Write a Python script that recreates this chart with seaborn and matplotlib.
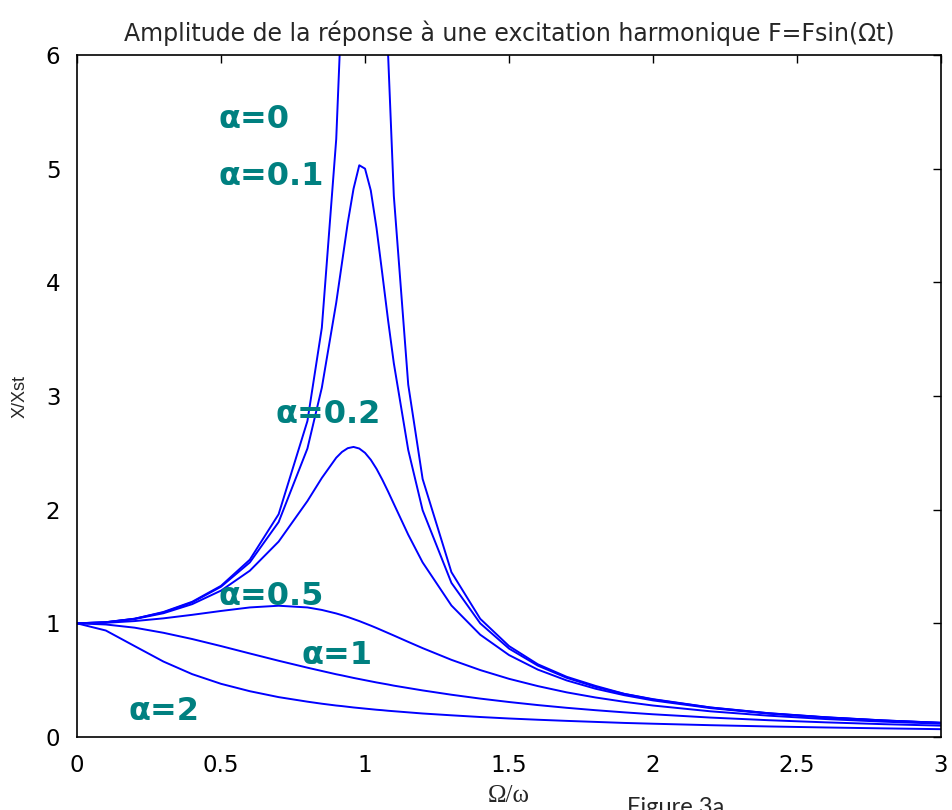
import numpy as np
import pandas as pd
import seaborn as sns
import matplotlib
matplotlib.use("Agg")
import matplotlib.pyplot as plt

# Omega/omega
r = [0, 0.1, 0.2, 0.3, 0.4, 0.5, 0.6, 0.7, 0.8, 0.85, 0.9, 0.92, 0.94, 0.96, 0.98,
     1.0, 1.02, 1.04, 1.06, 1.08, 1.1, 1.15, 1.2, 1.3, 1.4, 1.5, 1.6, 1.7, 1.8, 1.9,
     2.0, 2.2, 2.4, 2.6, 2.8, 3.0]

amp_a0 = [1.00, 1.01, 1.04, 1.10, 1.19, 1.33, 1.56, 1.96, 2.78, 3.60, 5.26, 6.51, 8.59, 12.76, 25.3,
          1000.0, 24.8, 12.25, 8.09, 6.01, 4.76, 3.10, 2.27, 1.45, 1.04, 0.80, 0.64, 0.53, 0.45, 0.38,
          0.333, 0.26, 0.21, 0.174, 0.146, 0.125]
amp_a01 = [1.00, 1.010, 1.041, 1.096, 1.185, 1.322, 1.536, 1.891, 2.538, 3.073, 3.821, 4.172, 4.523, 4.822, 5.03,
           5.00, 4.808, 4.476, 4.075, 3.667, 3.288, 2.525, 1.995, 1.356, 1.000, 0.778, 0.628, 0.521, 0.441, 0.379,
           0.330, 0.259, 0.209, 0.173, 0.146, 0.125]
amp_a02 = [1.00, 1.009, 1.038, 1.089, 1.169, 1.288, 1.463, 1.719, 2.076, 2.279, 2.457, 2.508, 2.541, 2.552, 2.538,
           2.50, 2.439, 2.359, 2.264, 2.160, 2.051, 1.780, 1.536, 1.157, 0.900, 0.721, 0.593, 0.498, 0.425, 0.368,
           0.322, 0.254, 0.206, 0.171, 0.144, 0.124]
amp_a05 = [1.00, 1.005, 1.020, 1.044, 1.075, 1.109, 1.140, 1.155, 1.140, 1.118, 1.087, 1.072, 1.056, 1.038, 1.020,
           1.00, 0.980, 0.959, 0.937, 0.915, 0.893, 0.837, 0.782, 0.679, 0.589, 0.512, 0.448, 0.393, 0.348, 0.310,
           0.277, 0.226, 0.188, 0.158, 0.135, 0.117]
amp_a1 = [1.00, 0.990, 0.962, 0.917, 0.862, 0.800, 0.735, 0.671, 0.610, 0.581, 0.552, 0.542, 0.531, 0.520, 0.510,
          0.500, 0.490, 0.480, 0.471, 0.462, 0.452, 0.431, 0.410, 0.372, 0.338, 0.308, 0.281, 0.257, 0.236, 0.217,
          0.200, 0.171, 0.148, 0.129, 0.113, 0.100]
amp_a2 = [1.00, 0.937, 0.800, 0.664, 0.553, 0.468, 0.403, 0.351, 0.311, 0.293, 0.277, 0.272, 0.266, 0.260, 0.255,
          0.250, 0.245, 0.240, 0.236, 0.231, 0.227, 0.217, 0.207, 0.191, 0.176, 0.163, 0.152, 0.142, 0.133, 0.124,
          0.117, 0.104, 0.093, 0.084, 0.076, 0.069]

alphas = ["0", "0.1", "0.2", "0.5", "1", "2"]
series = [amp_a0, amp_a01, amp_a02, amp_a05, amp_a1, amp_a2]

# format long pour seaborn
df = pd.concat([pd.DataFrame({"r": r, "amp": s, "alpha": a}) for a, s in zip(alphas, series)])

sns.set_style("white")
plt.rcParams["font.family"] = ["DejaVu Sans"]

fig = plt.figure(figsize=(9.52, 8.10), dpi=100)
ax = fig.add_axes([0.0809, 0.0901, 0.9076, 0.842])

sns.lineplot(data=df, x="r", y="amp", hue="alpha", palette=["#0000ff"] * 6,
             legend=False, linewidth=1.4, ax=ax, sort=False)

ax.set_xlim(0, 3)
ax.set_ylim(0, 6)
ax.set_xticks([0, 0.5, 1, 1.5, 2, 2.5, 3])
ax.set_xticklabels(["0", "0.5", "1", "1.5", "2", "2.5", "3"])
ax.set_yticks(range(7))
ax.tick_params(direction="in", length=6, width=1, top=True, right=True,
               labelsize=16.5, colors="black", pad=12)
for sp in ax.spines.values():
    sp.set_color("black")
    sp.set_linewidth(1.2)

ax.set_title("Amplitude de la réponse à une excitation harmonique F=Fsin(Ωt)",
             fontsize=17, pad=10)
ax.set_ylabel("X/Xst", fontsize=13, family=["Liberation Sans", "DejaVu Sans"])
ax.yaxis.set_label_coords(-0.056, 0.5)
ax.set_xlabel("Ω/ω", fontsize=18, family=["Liberation Serif", "DejaVu Serif"], va="center")
ax.xaxis.set_label_coords(0.5, -0.086)

# étiquettes des courbes
lab = dict(color="#008080", fontsize=23, fontweight="bold", va="baseline")
ax.text(0.49, 5.36, "α=0", **lab)
ax.text(0.49, 4.86, "α=0.1", **lab)
ax.text(0.69, 2.76, "α=0.2", **lab)
ax.text(0.49, 1.16, "α=0.5", **lab)
ax.text(0.78, 0.64, "α=1", **lab)
ax.text(0.18, 0.15, "α=2", **lab)

fig.text(0.659, 0.016, "Figure 3a", fontsize=17, family=["Lato", "DejaVu Sans"], va="top")

fig.savefig("out.png", dpi=100)
